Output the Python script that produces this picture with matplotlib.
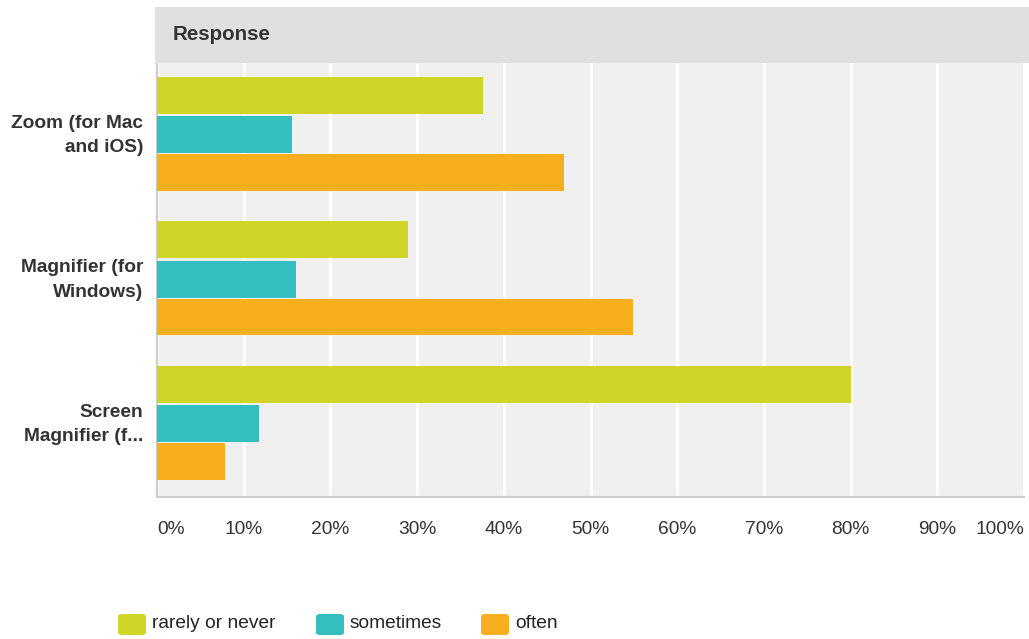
import numpy as np
import matplotlib.pyplot as plt
from matplotlib.patches import Rectangle, FancyBboxPatch

plt.rcParams['font.family'] = ['Liberation Sans', 'DejaVu Sans']

categories = ['Zoom (for Mac\nand iOS)', 'Magnifier (for\nWindows)', 'Screen\nMagnifier (f...']
series = ['rarely or never', 'sometimes', 'often']
rarely = [37.6, 29.0, 80.0]
sometimes = [15.6, 16.0, 11.8]
often = [46.9, 54.9, 7.8]
ticks = [0, 10, 20, 30, 40, 50, 60, 70, 80, 90, 100]
tick_labels = ['%d%%' % t for t in ticks]

colors = ['#cfd627', '#33bec0', '#f7af1e']
values = [rarely, sometimes, often]

fig = plt.figure(figsize=(10.29, 6.39), dpi=100)
ax = fig.add_axes([157/1029, 1 - 497/639, 867/1029, 434/639])
ax.set_facecolor('#f0f0f0')

y = np.arange(len(categories)) + 0.5
offsets = [-0.278, -0.006, 0.256]
for i in range(len(series)):
	ax.barh(y + offsets[i], values[i], height=0.255, color=colors[i], zorder=3)

ax.set_xlim(0, 100)
ax.set_ylim(3, 0)
ax.set_xticks(ticks)
ax.set_xticklabels(tick_labels, fontsize=13.8, color='#333333')
lbls = ax.get_xticklabels()
lbls[0].set_ha('left')
lbls[-1].set_ha('right')
ax.set_yticks(y)
ax.set_yticklabels(categories, fontsize=13.8, fontweight='bold', color='#333333',
	linespacing=1.55, va='center')
ax.tick_params(axis='x', length=0, pad=17)
ax.tick_params(axis='y', length=0, pad=10)
ax.grid(axis='x', color='white', linewidth=2, zorder=1)
for s in ['top', 'right']:
	ax.spines[s].set_visible(False)
for s in ['left', 'bottom']:
	ax.spines[s].set_color('#cccccc')
	ax.spines[s].set_linewidth(1.5)

# header band
fig.patches.append(Rectangle((155/1029, 1 - 63/639), 874/1029, 56/639,
	transform=fig.transFigure, facecolor='#e0e0e0', edgecolor='none'))
fig.text(173/1029, 1 - 34/639, 'Response', fontsize=14.8, fontweight='bold',
	color='#333333', va='center', ha='left')

# legend
sw_x = [118, 316, 481]
for i in range(len(series)):
	fig.patches.append(FancyBboxPatch((sw_x[i]/1029, 1 - 635/639), 28/1029, 21/639,
		boxstyle='round,pad=0,rounding_size=0.004', transform=fig.transFigure,
		facecolor=colors[i], edgecolor='none'))
	fig.text((sw_x[i] + 34)/1029, 1 - 623/639, series[i], fontsize=13.8,
		color='#222222', va='center', ha='left')

fig.savefig('out.png', dpi=100)
